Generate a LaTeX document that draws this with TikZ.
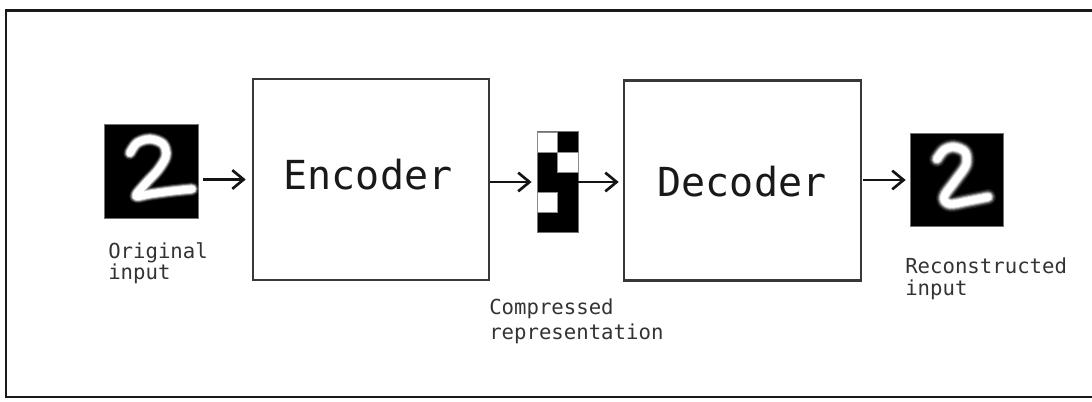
\documentclass[tikz,border=0pt]{standalone}
\usepackage{fontspec}
\setmonofont{DejaVu Sans Mono}
\usetikzlibrary{arrows.meta}

% white pen stroke with a soft halo, drawn as several passes
\newcommand\inkstroke[2]{%
  \foreach \w/\o in {#1}{%
    \draw[white, line width=\w pt, opacity=\o, line cap=round, line join=round]
      plot[smooth, tension=0.55] coordinates {#2};
  }%
}

\begin{document}
\begin{tikzpicture}[x=0.75pt, y=-0.75pt,
  frame/.style={line width=2.2pt, draw=black!90, line cap=rect},
  block/.style={draw=black!78, line width=1.9pt, fill=white, inner sep=0pt},
  blocktext/.style={font=\ttfamily\fontsize{30}{30}\selectfont, text=black!90, inner sep=0pt},
  caption/.style={font=\ttfamily\fontsize{15.5}{12}\selectfont, text=black!80,
    align=left, anchor=north west, inner sep=0pt},
  flow/.style={-{Straight Barb[length=8.5pt,width=14pt]}, line width=2pt, draw=black!92},
  digitbox/.style={fill=black, draw=black!55, line width=0.5pt, inner sep=0pt},
  cellw/.style={fill=white, draw=black!45, line width=0.6pt},
  codebox/.style={fill=black, draw=black!55, line width=0.6pt, inner sep=0pt,
    minimum width=30.75pt, minimum height=75.75pt},
]
\useasboundingbox (0,0) rectangle (1092,401);

% outer frame (runs off the right edge)
\draw[frame] (1095,10.5) -- (6,10.5) -- (6,397) -- (1095,397);

% input digit
\node[digitbox, minimum width=70.5pt, minimum height=70.5pt] (orig) at (151,171) {};
\inkstroke{10/0.15, 8.5/0.3, 7/0.6, 5.5/1}{(130,153) (137,143) (150,139) (163,144) (166,156) (158,170) (146,183) (136,196) (150,194) (172,191) (192,189)}

% encoder
\node[block, minimum width=177pt, minimum height=150.75pt] (enc) at (371,179.5) {};
\node[blocktext] (enctext) at (368,175) {Encoder};

% compressed code: 2 x 5 cells
\node[codebox] (code) at (557.5,182) {};
\draw[cellw] (537,132) rectangle (557.5,152);
\draw[cellw] (557.5,152) rectangle (578,172);
\draw[cellw] (537,192) rectangle (557.5,212);

% decoder
\node[block, minimum width=177.75pt, minimum height=150pt] (dec) at (742.5,180.5) {};
\node[blocktext] (dectext) at (742,182) {Decoder};

% reconstructed digit
\node[digitbox, minimum width=69.75pt, minimum height=69.75pt] (recon) at (956.5,180) {};
\inkstroke{12/0.1, 10/0.2, 8.5/0.35, 7/0.6, 5.5/0.9, 4.5/1}{(937,159) (944,150) (954,147) (965,152) (966,165) (955,181) (944,197) (950,204) (968,201) (988,197)}

% connectors
\draw[flow, shorten <=3.75pt, shorten >=4.5pt] (orig.east |- enc.west) -- (enc.west);
\draw[flow, shorten >=3.75pt] (enc.east |- code.west) -- (code.west);
\draw[flow, shorten >=3pt] (code.east) -- (dec.west |- code.east);
\draw[flow, shorten <=0.75pt, shorten >=3pt] (dec.east |- recon.west) -- (recon.west);

% captions
\node[caption] (origcap) at (108,242) {Original\\input};
\node[caption] (codecap) at (489,299) {Compressed\\[2.25pt]representation};
\node[caption] (reconcap) at (905,258) {Reconstructed\\[4.5pt]input};
\end{tikzpicture}
\end{document}
